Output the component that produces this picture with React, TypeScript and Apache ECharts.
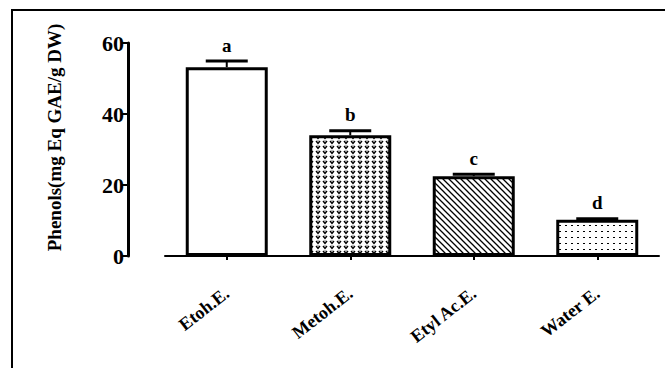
import React, { useEffect, useRef } from "react";
import * as echarts from "echarts";

const categories = ["Etoh.E.", "Metoh.E.", "Etyl Ac.E.", "Water E."];
const means = [53.2, 34.0, 22.5, 10.2];
const errors = [1.7, 1.3, 0.5, 0.3];
const letters = ["a", "b", "c", "d"];
const yAxisTitle = "Phenols(mg Eq GAE/g DW)";

const SERIF = "'Liberation Serif', 'Times New Roman', Times, serif";

function makeTile(w: number, h: number, draw: (ctx: CanvasRenderingContext2D) => void) {
  const c = document.createElement("canvas");
  c.width = w;
  c.height = h;
  const ctx = c.getContext("2d") as CanvasRenderingContext2D;
  ctx.fillStyle = "#fff";
  ctx.fillRect(0, 0, w, h);
  ctx.fillStyle = "#000";
  ctx.strokeStyle = "#000";
  draw(ctx);
  return { image: c, repeat: "repeat", imageWidth: w, imageHeight: h };
}

function patterns() {
  const hearts = makeTile(7, 5, (ctx) => {
    ctx.lineWidth = 1.3;
    ctx.beginPath();
    ctx.moveTo(1, 1);
    ctx.lineTo(3, 3.5);
    ctx.lineTo(5, 1);
    ctx.stroke();
    ctx.fillRect(2.5, 0.5, 1, 1);
  });
  const hatch = makeTile(6, 6, (ctx) => {
    ctx.lineWidth = 1.3;
    ctx.beginPath();
    ctx.moveTo(-1, -1);
    ctx.lineTo(7, 7);
    ctx.moveTo(-4, 2);
    ctx.lineTo(4, 10);
    ctx.moveTo(2, -4);
    ctx.lineTo(10, 4);
    ctx.stroke();
  });
  const dashes = makeTile(6, 6, (ctx) => {
    ctx.fillRect(1, 3, 2, 1);
  });
  return [hearts, hatch, dashes];
}

export default function App() {
  const ref = useRef<HTMLDivElement>(null);
  useEffect(() => {
    if (!ref.current) return;
    const chart = echarts.init(ref.current, null, { renderer: "svg" });
    const [hearts, hatch, dashes] = patterns();
    const fills: any[] = ["#fff", hearts, hatch, dashes];
    chart.setOption({
      animation: false,
      backgroundColor: "#fff",
      textStyle: { fontFamily: SERIF },
      graphic: [
        {
          type: "rect",
          shape: { x: 12, y: 10, width: 720, height: 420 },
          style: { fill: "none", stroke: "#000", lineWidth: 2 },
          silent: true,
        },
      ],
      grid: { left: 165, right: 6, top: 43, bottom: 112 },
      xAxis: {
        type: "category",
        data: categories,
        offset: 24,
        axisLine: { show: true, lineStyle: { color: "#000", width: 2 } },
        axisTick: { show: true, alignWithLabel: true, length: 4, lineStyle: { color: "#000", width: 2 } },
        axisLabel: {
          rotate: 38,
          margin: 11,
          color: "#000",
          fontFamily: SERIF,
          fontWeight: "bold",
          fontSize: 18,
          interval: 0,
        },
      },
      yAxis: {
        type: "value",
        min: 0,
        max: 60,
        interval: 20,
        offset: 37,
        name: yAxisTitle,
        nameLocation: "middle",
        nameGap: 64,
        nameTextStyle: {
          color: "#000",
          fontFamily: SERIF,
          fontWeight: "bold",
          fontSize: 19,
          padding: [0, 0, 0, 24],
        },
        axisLine: { show: true, lineStyle: { color: "#000", width: 3 } },
        axisTick: { show: true, length: 7, lineStyle: { color: "#000", width: 2 } },
        axisLabel: { color: "#000", fontFamily: SERIF, fontWeight: "bold", fontSize: 22, margin: 4 },
        splitLine: { show: false },
      },
      series: [
        {
          type: "bar",
          barWidth: 82,
          data: means.map((v, i) => ({
            value: v,
            itemStyle: { color: fills[i], borderColor: "#000", borderWidth: 3 },
          })),
        },
        {
          type: "custom",
          z: 5,
          data: means.map((m, i) => [i, m, errors[i]]),
          renderItem: (params: any, api: any) => {
            const i = api.value(0);
            const m = api.value(1);
            const e = api.value(2);
            const base = api.coord([i, m]);
            const top = api.coord([i, m + e]);
            const half = 21;
            return {
              type: "group",
              children: [
                {
                  type: "line",
                  shape: { x1: base[0], y1: base[1], x2: top[0], y2: top[1] },
                  style: { stroke: "#000", lineWidth: 2 },
                },
                {
                  type: "line",
                  shape: { x1: top[0] - half, y1: top[1], x2: top[0] + half, y2: top[1] },
                  style: { stroke: "#000", lineWidth: 3 },
                },
                {
                  type: "text",
                  x: top[0],
                  y: top[1] - 16,
                  style: {
                    text: letters[i],
                    font: "bold 19px 'Liberation Serif', serif",
                    fill: "#000",
                    align: "center",
                    verticalAlign: "middle",
                  },
                },
              ],
            };
          },
        },
      ],
    });
    return () => chart.dispose();
  }, []);
  return (
    <div
      ref={ref}
      style={{ position: "fixed", left: 0, top: 0, width: 665, height: 368, background: "#fff" }}
    />
  );
}
